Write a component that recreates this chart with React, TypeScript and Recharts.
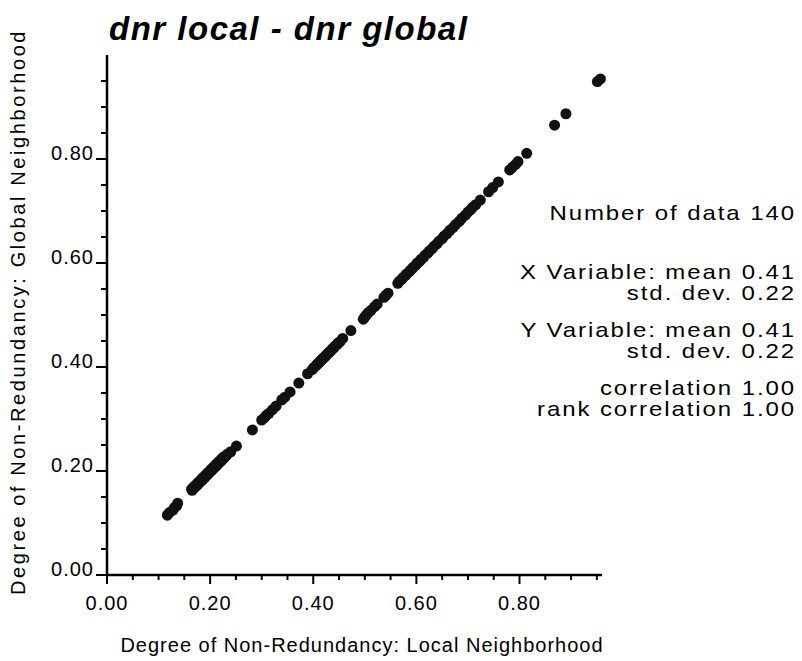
import { ScatterChart, Scatter, XAxis, YAxis } from 'recharts';

// degree of non-redundancy, local neighborhood (x) vs global neighborhood (y)
const localNR = [
  0.117, 0.121, 0.128, 0.131, 0.135, 0.137,
  0.165, 0.164, 0.169, 0.168, 0.173, 0.171, 0.176, 0.175, 0.18, 0.178,
  0.183, 0.182, 0.186, 0.185, 0.19, 0.188, 0.193, 0.192, 0.196, 0.195,
  0.2, 0.198, 0.203, 0.202, 0.206, 0.205, 0.21, 0.208, 0.213, 0.212,
  0.216, 0.215, 0.22, 0.218, 0.223, 0.222, 0.227, 0.226, 0.231, 0.233,
  0.24, 0.251, 0.282, 0.3, 0.305, 0.309, 0.314, 0.321, 0.328, 0.339, 0.345,
  0.355, 0.372, 0.389, 0.398, 0.401, 0.406, 0.408, 0.411, 0.413, 0.417, 0.418, 0.422, 0.424,
  0.426, 0.43, 0.431, 0.435, 0.437, 0.44, 0.442, 0.446, 0.448, 0.452, 0.457, 0.473,
  0.497, 0.5, 0.503, 0.507, 0.512, 0.519, 0.524, 0.537, 0.541, 0.545,
  0.564, 0.567, 0.571, 0.574, 0.579, 0.581, 0.586, 0.588, 0.592, 0.594, 0.599, 0.602, 0.606,
  0.609, 0.614, 0.617, 0.622, 0.625, 0.63, 0.634, 0.64, 0.644, 0.65, 0.654, 0.66, 0.665,
  0.671, 0.676, 0.683, 0.688,
  0.695, 0.7, 0.705, 0.709, 0.715, 0.724, 0.74, 0.748, 0.759, 0.781, 0.786, 0.792, 0.797,
  0.814, 0.868, 0.89, 0.951, 0.957,
];

const globalNR = [
  0.115, 0.12, 0.125, 0.13, 0.133, 0.138,
  0.163, 0.165, 0.167, 0.169, 0.171, 0.172, 0.174, 0.176, 0.178, 0.179,
  0.181, 0.183, 0.184, 0.186, 0.188, 0.189, 0.191, 0.193, 0.194, 0.196,
  0.198, 0.199, 0.201, 0.203, 0.204, 0.206, 0.208, 0.209, 0.211, 0.213,
  0.214, 0.216, 0.218, 0.219, 0.221, 0.223, 0.225, 0.227, 0.229, 0.232,
  0.237, 0.248, 0.279, 0.298, 0.302, 0.307, 0.311, 0.318, 0.325, 0.337, 0.342,
  0.352, 0.369, 0.387, 0.395, 0.399, 0.403, 0.406, 0.408, 0.411, 0.414, 0.416, 0.419, 0.421,
  0.424, 0.427, 0.429, 0.432, 0.435, 0.437, 0.44, 0.443, 0.446, 0.449, 0.455, 0.47,
  0.492, 0.496, 0.5, 0.505, 0.509, 0.516, 0.521, 0.534, 0.538, 0.542,
  0.561, 0.565, 0.568, 0.572, 0.576, 0.579, 0.583, 0.586, 0.589, 0.592, 0.596, 0.6, 0.603,
  0.607, 0.611, 0.615, 0.619, 0.623, 0.627, 0.632, 0.637, 0.642, 0.647, 0.652, 0.657, 0.663,
  0.668, 0.674, 0.68, 0.686,
  0.692, 0.698, 0.702, 0.707, 0.712, 0.721, 0.737, 0.745, 0.756, 0.779, 0.784, 0.789, 0.795,
  0.811, 0.865, 0.887, 0.949, 0.954,
];

const axisTicks = [
  0, 0.05, 0.1, 0.15, 0.2, 0.25, 0.3, 0.35, 0.4, 0.45,
  0.5, 0.55, 0.6, 0.65, 0.7, 0.75, 0.8, 0.85, 0.9, 0.95,
];
const labeledTicks = [0, 0.2, 0.4, 0.6, 0.8];

const statsLines = [
  { text: 'Number of data 140', y: 220 },
  { text: 'X Variable: mean 0.41', y: 279 },
  { text: 'std. dev. 0.22', y: 300 },
  { text: 'Y Variable: mean 0.41', y: 337 },
  { text: 'std. dev. 0.22', y: 358 },
  { text: 'correlation 1.00', y: 395 },
  { text: 'rank correlation 1.00', y: 416 },
];

const points = localNR.map((x, i) => ({ x, y: globalNR[i] }));

const FONT = '"Liberation Sans", Arial, Helvetica, sans-serif';

const isMajor = (v: number) => labeledTicks.some((t) => Math.abs(t - v) < 1e-6);

function XTick({ x, y, payload }: any) {
  const major = isMajor(payload.value);
  return (
    <g>
      <line x1={x} y1={y} x2={x} y2={y + (major ? 9 : 5)} stroke="#000" strokeWidth={2} />
      {major && (
        <text x={x} y={y + 35} textAnchor="middle" fontSize={20} fontFamily={FONT} fill="#000" letterSpacing={1}>
          {payload.value.toFixed(2)}
        </text>
      )}
    </g>
  );
}

function YTick({ x, y, payload }: any) {
  const major = isMajor(payload.value);
  return (
    <g>
      <line x1={x} y1={y} x2={x - (major ? 11 : 6)} y2={y} stroke="#000" strokeWidth={2} />
      {major && (
        <text x={x - 13} y={y + 1} textAnchor="end" fontSize={20} fontFamily={FONT} fill="#000" letterSpacing={1}>
          {payload.value.toFixed(2)}
        </text>
      )}
    </g>
  );
}

export default function App() {
  return (
    <div style={{ position: 'absolute', left: 0, top: 0, width: 802, height: 661, background: '#fff' }}>
      <ScatterChart width={802} height={661} margin={{ top: 55, right: 200, bottom: 46, left: 47 }}>
        <XAxis
          type="number"
          dataKey="x"
          domain={[0, 0.96]}
          ticks={axisTicks}
          interval={0}
          height={40}
          tickLine={false}
          tickSize={0}
          tickMargin={0}
          axisLine={{ stroke: '#000', strokeWidth: 2.5 }}
          tick={<XTick />}
        />
        <YAxis
          type="number"
          dataKey="y"
          domain={[0, 1]}
          ticks={axisTicks}
          interval={0}
          width={60}
          tickLine={false}
          tickSize={0}
          tickMargin={0}
          axisLine={{ stroke: '#000', strokeWidth: 2.5 }}
          tick={<YTick />}
        />
        <Scatter
          data={points}
          isAnimationActive={false}
          shape={(p: any) => <circle cx={p.cx} cy={p.cy} r={5.5} fill="#111" />}
        />
      </ScatterChart>

      <svg width={802} height={661} style={{ position: 'absolute', left: 0, top: 0, pointerEvents: 'none' }}>
        <text x={109} y={40} fontSize={33} fontWeight="bold" fontStyle="italic" fontFamily={FONT} letterSpacing={1.5} fill="#000">
          dnr local - dnr global
        </text>
        {/* stats block: wide, tightly leaded lines as in the original */}
        {statsLines.map((l, i) => (
          <text
            key={i}
            x={0}
            y={0}
            transform={`translate(796, ${l.y}) scale(1.2, 1)`}
            textAnchor="end"
            fontSize={20}
            fontFamily={FONT}
            letterSpacing={1.6}
            fill="#000"
          >
            {l.text}
          </text>
        ))}
        <text x={362} y={652} textAnchor="middle" fontSize={20} fontFamily={FONT} letterSpacing={1} fill="#000">
          Degree of Non-Redundancy: Local Neighborhood
        </text>
        <text
          x={0}
          y={0}
          transform="translate(25, 312) rotate(-90)"
          textAnchor="middle"
          fontSize={20}
          fontFamily={FONT}
          letterSpacing={2.6}
          fill="#000"
        >
          Degree of Non-Redundancy: Global Neighborhood
        </text>
      </svg>
    </div>
  );
}
